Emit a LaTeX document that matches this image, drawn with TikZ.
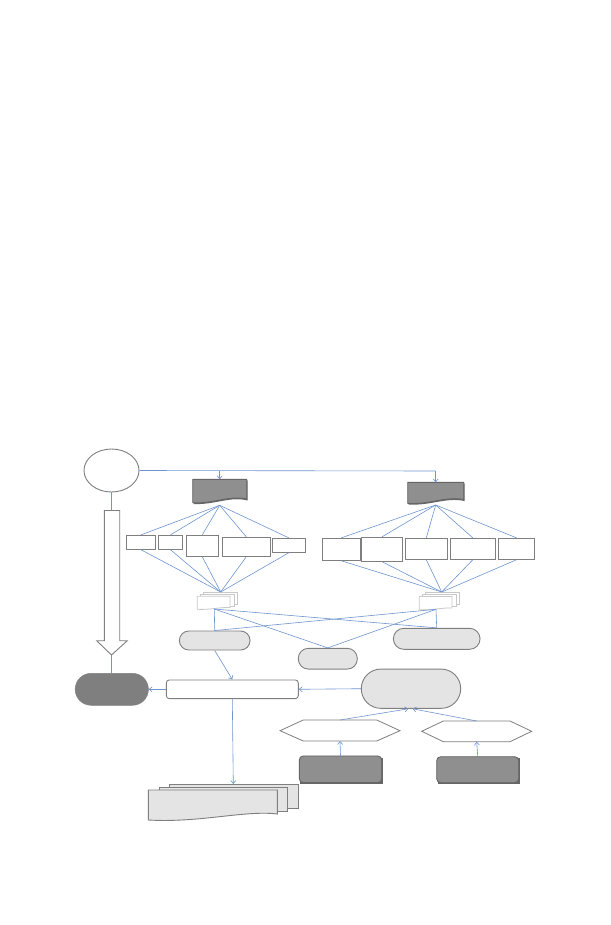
\documentclass[tikz,border=0pt]{standalone}
\usetikzlibrary{arrows.meta,shapes.geometric}
\definecolor{conn}{HTML}{6F95CF}
\definecolor{edge}{HTML}{7F7F7F}
\definecolor{lightfill}{HTML}{E3E4E3}
\definecolor{darkfill}{HTML}{8F8F8F}
\definecolor{darkedge}{HTML}{666666}
\definecolor{pillfill}{HTML}{7F7F7F}
\definecolor{faint}{HTML}{C8C8C8}
\tikzset{
  px/.style={x=1pt,y=-1pt},
  link/.style={draw=conn,line width=0.6pt},
  arr/.style={link,-{Straight Barb[length=3pt,width=5pt]}},
  plainbox/.style={draw=edge,line width=0.9pt,fill=white,inner sep=0pt,rectangle},
  lightpill/.style={draw=edge,line width=0.9pt,fill=lightfill,inner sep=0pt,rectangle},
  darkbox/.style={draw=darkedge,line width=0.9pt,fill=darkfill,inner sep=0pt,rectangle,rounded corners=4pt},
  docline/.style={draw=edge,line width=0.9pt,fill=lightfill},
  faintdoc/.style={draw=faint,line width=0.8pt,fill=white},
  darkdoc/.style={draw=darkedge,line width=0.9pt,fill=darkfill},
}
\begin{document}
\begin{tikzpicture}[px]
\useasboundingbox (0,0) rectangle (610,925);
\fill[white] (0,0) rectangle (610,925);

% ellipse
\node[draw=edge,line width=0.9pt,ellipse,minimum width=55pt,minimum height=43pt,inner sep=0pt] (ell) at (111.5,470.5) {};

% dark documents (top)
\fill[darkedge] (193.7,480.3) -- (247.7,480.3) -- (247.7,500.5) .. controls (230,496) and (215,505) .. (193.7,504) -- cycle;
\path[darkdoc] (192.7,479.3) -- (246.7,479.3) -- (246.7,499) .. controls (229,495) and (214,504) .. (192.7,502.7) -- cycle;
\coordinate (ldocT) at (219.7,479.3);
\coordinate (ldocB) at (219.7,505.3);
\fill[darkedge] (408.7,483.3) -- (464.7,483.3) -- (464.7,501) .. controls (446,497) and (430,506) .. (408.7,504.5) -- cycle;
\path[darkdoc] (407.7,482.3) -- (463.7,482.3) -- (463.7,499.5) .. controls (445,496) and (429,505) .. (407.7,503.3) -- cycle;
\coordinate (rdocT) at (435.7,482.3);
\coordinate (rdocB) at (435.7,505);

% top connectors
\coordinate (topL) at (219.7,471);
\coordinate (topR) at (435.7,471);
\draw[link] (ell.east) -- (topR);
\draw[arr] (topL) -- (ldocT);
\draw[arr] (topR) -- (rdocT);

% left boxes
\node[plainbox,minimum width=29.7pt,minimum height=14pt] (L1) at (141,542.3) {};
\node[plainbox,minimum width=24.4pt,minimum height=14pt] (L2) at (170.5,542.3) {};
\node[plainbox,minimum width=32pt,minimum height=21pt] (L3) at (202.3,545.8) {};
\node[plainbox,minimum width=48pt,minimum height=19pt] (L4) at (246.3,546.8) {};
\node[plainbox,minimum width=33pt,minimum height=14pt] (L5) at (288.8,545.3) {};
% right boxes
\node[plainbox,minimum width=38pt,minimum height=22pt] (R1) at (341.3,549.3) {};
\node[plainbox,minimum width=40.6pt,minimum height=24pt] (R2) at (382,549.3) {};
\node[plainbox,minimum width=42pt,minimum height=21pt] (R3) at (426.3,548.8) {};
\node[plainbox,minimum width=45pt,minimum height=21pt] (R4) at (472.8,548.8) {};
\node[plainbox,minimum width=36.4pt,minimum height=21pt] (R5) at (516.5,548.8) {};

% small multidocs
\path[faintdoc] (203.3,592.3) -- (237.7,592.3) -- (237.7,604) -- (203.3,604) -- cycle;
\path[faintdoc] (200.3,594.2) -- (234.7,594.2) -- (234.7,606.5) -- (200.3,606.5) -- cycle;
\path[faintdoc] (197.3,596.2) -- (230,596.2) -- (230,607.5) .. controls (220,607) and (210,610) .. (197.3,609.3) -- cycle;
\coordinate (lmdT) at (220.7,592);
\coordinate (lmdB) at (214.3,609);
\path[faintdoc] (425.3,592.6) -- (459.7,592.6) -- (459.7,604.3) -- (425.3,604.3) -- cycle;
\path[faintdoc] (422.3,594.5) -- (456.7,594.5) -- (456.7,606.8) -- (422.3,606.8) -- cycle;
\path[faintdoc] (419.3,596.5) -- (452,596.5) -- (452,608) .. controls (442,607.5) and (432,610.5) .. (419.3,609.8) -- cycle;
\coordinate (rmdT) at (441.7,592);
\coordinate (rmdB) at (436,609.3);

% fans
\foreach \b in {L1,L2,L3,L4,L5}{
  \draw[link] (ldocB) -- (\b.north);
  \draw[link] (\b.south) -- (lmdT);
}
\foreach \b in {R1,R2,R3,R4,R5}{
  \draw[link] (rdocB) -- (\b.north);
  \draw[link] (\b.south) -- (rmdT);
}

% pills
\node[lightpill,rounded corners=9.5pt,minimum width=70.7pt,minimum height=19pt] (pL) at (214.7,640.5) {};
\node[lightpill,rounded corners=10pt,minimum width=59pt,minimum height=20.7pt] (pM) at (327.8,658.7) {};
\node[lightpill,rounded corners=10.5pt,minimum width=86.7pt,minimum height=21pt] (pR) at (436.7,638.8) {};

\foreach \s in {lmdB,rmdB}{
  \draw[link] (\s) -- (pL.north);
  \draw[link] (\s) -- (pM.north);
  \draw[link] (\s) -- (pR.north);
}

% central rect
\node[plainbox,rounded corners=3pt,minimum width=132pt,minimum height=18.7pt] (cen) at (232.3,689.3) {};
% dark pill
\node[fill=pillfill,draw=pillfill,rounded corners=16pt,minimum width=73.3pt,minimum height=32pt,inner sep=0pt] (dp) at (111.8,689.3) {};
% big pill
\node[lightpill,rounded corners=19.6pt,minimum width=99.4pt,minimum height=39.3pt] (bp) at (411,688.7) {};

% big hollow arrow
\path[draw=edge,line width=0.9pt,fill=white] (104.3,510.5) -- (119.7,510.5) -- (119.7,640.7) -- (127.3,640.7) -- (111.5,655) -- (96.7,640.7) -- (104.3,640.7) -- cycle;
\coordinate (baT) at (111.5,510.5);
\coordinate (baB) at (111.5,655);
\draw[link] (ell.south) -- (baT);
\draw[link] (baB) -- (baB |- dp.north);

% hexagons
\path[draw=edge,line width=0.8pt,fill=white] (280,730.7) -- (303.3,720) -- (376.7,720) -- (400,730.7) -- (376.7,741) -- (303.3,741) -- cycle;
\coordinate (hLT) at (340,720);
\coordinate (hLB) at (340,741);
\path[draw=edge,line width=0.8pt,fill=white] (421.7,731.3) -- (443.3,721) -- (510,721) -- (531.7,731.3) -- (510,741.7) -- (443.3,741.7) -- cycle;
\coordinate (hRT) at (476.7,721);
\coordinate (hRB) at (476.7,741.7);

% dark boxes
\fill[darkedge] (300.3,757.5) rectangle (382.7,784) ;
\node[darkbox,minimum width=82.4pt,minimum height=26.7pt] (dL) at (340.5,769.3) {};
\fill[darkedge] (437.7,758) rectangle (519.7,784);
\node[darkbox,minimum width=82pt,minimum height=26pt] (dR) at (477.7,769.7) {};

% bottom-left multidocument
\path[docline] (169,784) -- (298.3,784) -- (298.3,808.3) -- (169,808.3) -- cycle;
\path[docline] (159,787.3) -- (287.3,787.3) -- (287.3,811.7) -- (159,811.7) -- cycle;
\path[docline] (148.3,790) -- (277.3,790) -- (277.3,814) .. controls (245,810) and (200,823) .. (148.3,820) -- cycle;
\coordinate (mdT) at (233.3,784);

% arrows
\draw[arr] (pL.south) -- (cen.north);
\draw[arr] (cen.west) -- (dp.east);
\draw[arr] (bp.west) -- (cen.east);
\draw[arr] (cen.south) -- (mdT);
\draw[arr] (hLT) -- ([xshift=-2.7pt]bp.south);
\draw[arr] (hRT) -- ([xshift=1.7pt]bp.south);
\draw[arr] (dL.north) -- (hLB);
\draw[arr] (dR.north) -- (hRB);
\end{tikzpicture}
\end{document}
